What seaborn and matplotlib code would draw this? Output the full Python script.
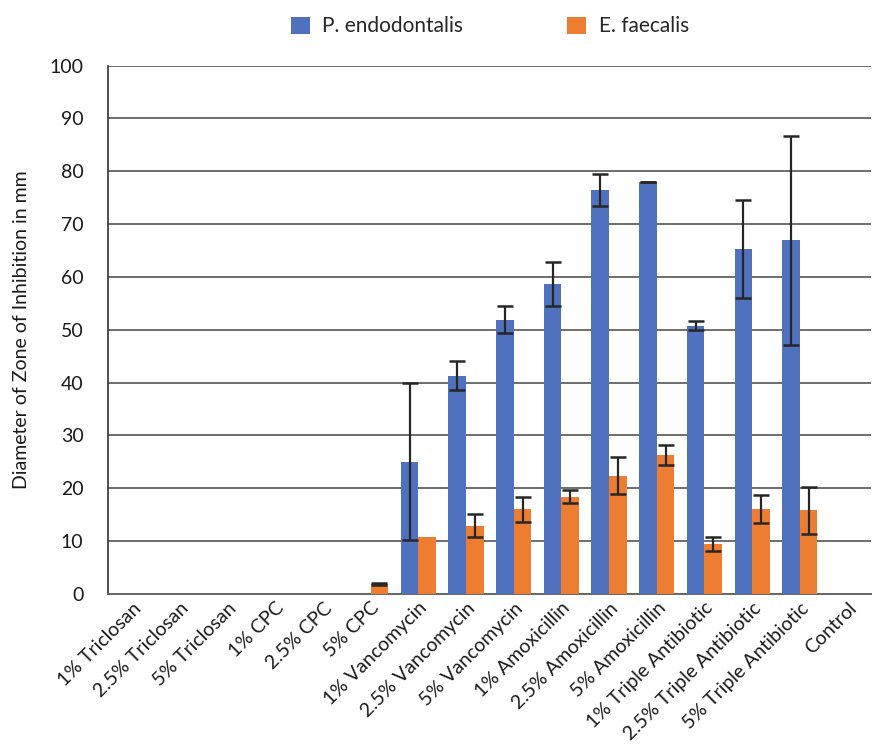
import matplotlib
matplotlib.use("Agg")
import matplotlib.pyplot as plt
import numpy as np
import pandas as pd
import seaborn as sns

# 数据
categories = ["1% Triclosan", "2.5% Triclosan", "5% Triclosan", "1% CPC", "2.5% CPC",
              "5% CPC", "1% Vancomycin", "2.5% Vancomycin", "5% Vancomycin",
              "1% Amoxicillin", "2.5% Amoxicillin", "5% Amoxicillin",
              "1% Triple Antibiotic", "2.5% Triple Antibiotic", "5% Triple Antibiotic",
              "Control"]
series = ["P. endodontalis", "E. faecalis"]
p_endo = [0, 0, 0, 0, 0, 0, 25.0, 41.3, 51.9, 58.7, 76.5, 78.0, 50.8, 65.3, 66.9, 0]
p_endo_err = [np.nan] * 6 + [14.9, 2.7, 2.6, 4.2, 3.0, 0.0, 0.9, 9.2, 19.8, np.nan]
e_faec = [0, 0, 0, 0, 0, 1.9, 10.7, 12.9, 16.0, 18.4, 22.4, 26.3, 9.5, 16.1, 15.8, 0]
e_faec_err = [np.nan] * 5 + [0.15, np.nan, 2.2, 2.4, 1.3, 3.5, 1.9, 1.3, 2.7, 4.5, np.nan]

colors = ["#4F71BE", "#ED7D31"]

df = pd.DataFrame({
    "cat": categories * 2,
    "org": [series[0]] * len(categories) + [series[1]] * len(categories),
    "val": p_endo + e_faec,
})

sns.set_style("white")
plt.rcParams["font.family"] = ["Lato", "DejaVu Sans"]

fig = plt.figure(figsize=(8.74, 7.46), dpi=100)
ax = fig.add_axes([0.124, 0.204, 0.873, 0.708])

sns.barplot(data=df, x="cat", y="val", hue="org", palette=colors, width=0.74,
            saturation=1, errorbar=None, ax=ax, zorder=3, linewidth=0)

# 误差线
for cont, errs in zip(ax.containers, [p_endo_err, e_faec_err]):
    for bar, e in zip(cont, errs):
        if np.isnan(e):
            continue
        ax.errorbar(bar.get_x() + bar.get_width() / 2, bar.get_height(), yerr=e,
                    fmt="none", ecolor="#262626", elinewidth=1.6, capsize=6,
                    capthick=1.8, zorder=4)

ax.set_ylim(0, 100)
ax.set_xlim(-0.5, len(categories) - 0.5)
ax.set_yticks(range(0, 101, 10))
ax.yaxis.grid(True, color="#555555", linewidth=1.2, zorder=0)
ax.set_axisbelow(True)
for s in ["top", "right"]:
    ax.spines[s].set_visible(False)
ax.spines["left"].set_color("#333333")
ax.spines["bottom"].set_color("#666666")
ax.spines["left"].set_linewidth(1.2)
ax.spines["bottom"].set_linewidth(1.4)

ax.set_xlabel("")
ax.set_ylabel("Diameter of Zone of Inhibition in mm", fontsize=14, color="#1a1a1a",
              labelpad=14)
ax.tick_params(axis="y", labelsize=14, colors="#1a1a1a", length=0, pad=18)
ax.tick_params(axis="x", labelsize=14, colors="#1a1a1a", length=0, pad=4)
plt.setp(ax.get_xticklabels(), rotation=45, ha="right", rotation_mode="anchor")

ax.legend(loc="lower center", bbox_to_anchor=(0.5, 1.02), ncol=2, frameon=False,
          fontsize=15, handlelength=0.9, handleheight=0.9, columnspacing=5,
          handletextpad=0.6)

fig.savefig("out.png", dpi=100)
